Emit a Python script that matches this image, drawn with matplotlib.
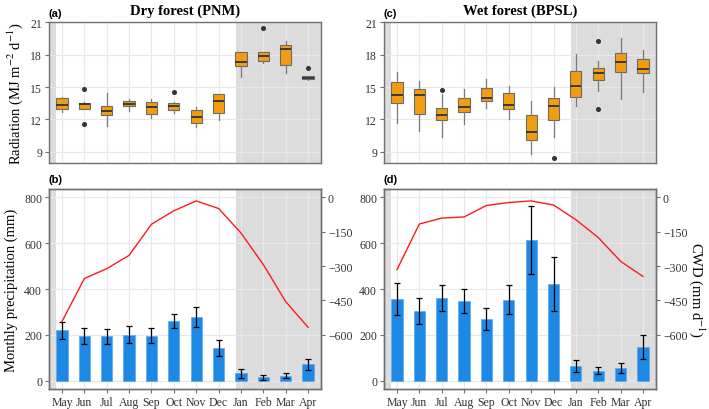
import numpy as np
import matplotlib
matplotlib.use('Agg')
import matplotlib.pyplot as plt

plt.rcParams['font.family'] = ['Liberation Serif', 'DejaVu Serif']
plt.rcParams['mathtext.fontset'] = 'stix'

months = ['May', 'Jun', 'Jul', 'Aug', 'Sep', 'Oct', 'Nov', 'Dec', 'Jan', 'Feb', 'Mar', 'Apr']

# radiation boxplot stats, dry forest (PNM)
dry_q1 = [13.0, 13.0, 12.38, 13.25, 12.5, 12.88, 11.7, 12.57, 16.94, 17.47, 17.03, 15.76]
dry_med = [13.34, 13.43, 12.78, 13.46, 13.19, 13.28, 12.2, 13.72, 17.37, 17.87, 18.58, 15.88]
dry_q3 = [13.96, 13.53, 13.28, 13.71, 13.65, 13.53, 12.88, 14.34, 18.3, 18.24, 18.92, 16.0]
dry_wlo = [12.66, 12.95, 11.42, 12.8, 12.1, 12.6, 11.3, 11.95, 15.98, 17.22, 16.3, 15.7]
dry_whi = [14.1, 13.6, 14.43, 13.9, 13.9, 13.65, 13.13, 14.34, 18.3, 18.3, 19.3, 16.05]
dry_fliers = [[], [14.86, 11.54], [], [], [], [14.52], [], [], [], [20.53], [], [16.75]]

# radiation boxplot stats, wet forest (BPSL)
wet_q1 = [13.53, 12.48, 11.92, 12.66, 13.68, 12.94, 10.12, 11.92, 14.12, 15.67, 16.41, 16.32]
wet_med = [14.24, 14.27, 12.38, 13.19, 13.96, 13.34, 10.8, 13.28, 15.08, 16.32, 17.34, 16.66]
wet_q3 = [15.45, 14.83, 13.03, 14.02, 14.89, 14.43, 12.41, 13.96, 16.47, 16.75, 18.21, 17.59]
wet_wlo = [11.64, 10.96, 10.34, 11.58, 13.03, 12.04, 8.79, 10.34, 13.28, 14.61, 13.9, 14.55]
wet_whi = [16.44, 15.6, 14.37, 14.83, 15.76, 15.08, 13.68, 15.05, 18.09, 17.47, 19.6, 18.49]
wet_fliers = [[], [], [14.77], [], [], [], [], [8.45], [], [19.26, 13.0], [], []]

# monthly precipitation (mean, error) and CWD
dry_prec = [219, 194, 193, 201, 196, 262, 278, 141, 32, 14.5, 22, 71]
dry_err = [38, 34, 33, 38, 33, 31, 44, 35, 19, 10, 12.5, 23]
dry_cwd = [-542, -354, -311, -253, -117, -58, -15, -48, -155, -293, -455, -567]

wet_prec = [355, 303, 361, 348, 270, 354, 614, 422, 65, 43.5, 56.5, 148]
wet_err = [70, 57, 58, 52, 48, 63, 150, 118, 26, 15, 22, 53]
wet_cwd = [-315, -116, -90, -85, -35, -22, -15, -33, -97, -175, -279, -345]

x = np.arange(len(months))
spine_col = '#707070'
grid_col = '#E8E8E8'
shade_col = '#DCDCDC'


def style(ax):
    ax.set_xlim(-0.58, 11.58)
    ax.set_axisbelow(True)
    ax.grid(True, color=grid_col, lw=0.9, zorder=0.5)
    ax.axvspan(-0.58, -0.25, color=shade_col, lw=0, zorder=0.2)
    ax.axvspan(7.76, 11.58, color=shade_col, lw=0, zorder=0.2)
    for s in ax.spines.values():
        s.set_color(spine_col)
        s.set_linewidth(1.0)
    ax.tick_params(colors='#333333', labelsize=8.5, length=3, width=0.8, pad=2)
    ax.tick_params(axis='both', color=spine_col)


def boxes(ax, q1, med, q3, wlo, whi, fl):
    stats = []
    for i in range(len(months)):
        stats.append(dict(q1=q1[i], med=med[i], q3=q3[i], whislo=wlo[i], whishi=whi[i], fliers=fl[i]))
    ax.bxp(stats, positions=x, widths=0.5, patch_artist=True, showcaps=False,
           boxprops=dict(facecolor='#F29D0F', edgecolor='#6a6a6a', lw=0.8),
           medianprops=dict(color='#3a3a3a', lw=1.4),
           whiskerprops=dict(color='#7a7a7a', lw=0.9),
           flierprops=dict(marker='o', markersize=2.6, markerfacecolor='#333333',
                           markeredgecolor='#333333'))
    ax.set_ylim(7.95, 21.05)
    ax.set_yticks([9, 12, 15, 18, 21])
    ax.set_xticks(x)
    ax.tick_params(axis='x', length=0, labelbottom=False)


def bars(ax, prec, err, cwd):
    ax.bar(x, prec, width=0.5, color='#1E88E5', edgecolor='#5aa8ee', lw=0.5, zorder=2)
    ax.errorbar(x, prec, yerr=err, fmt='none', ecolor='black', elinewidth=0.9, capsize=2.5,
                capthick=0.9, zorder=3)
    ax.set_ylim(-38, 836)
    ax.set_yticks([0, 200, 400, 600, 800])
    ax.set_xticks(x)
    ax.set_xticklabels(months)
    ax.tick_params(axis='x', pad=1.5)
    ax2 = ax.twinx()
    ax2.plot(x, cwd, color='#FF1A1A', lw=1.0)
    ax2.set_ylim(-838, 36)
    ax2.set_yticks([0, -150, -300, -450, -600])
    ax2.set_xlim(-0.58, 11.58)
    for s in ax2.spines.values():
        s.set_color(spine_col)
        s.set_linewidth(1.0)
    ax2.tick_params(colors='#333333', labelsize=8.5, length=3, width=0.8, pad=2)
    ax2.tick_params(axis='y', color=spine_col)
    return ax2


fig = plt.figure(figsize=(7.09, 4.10), dpi=100)
ax_a = fig.add_axes([0.0691, 0.600, 0.3837, 0.344])
ax_c = fig.add_axes([0.5416, 0.600, 0.3836, 0.344])
ax_b = fig.add_axes([0.0691, 0.0480, 0.3837, 0.488])
ax_d = fig.add_axes([0.5416, 0.0480, 0.3836, 0.488])

for ax in [ax_a, ax_b, ax_c, ax_d]:
    style(ax)

boxes(ax_a, dry_q1, dry_med, dry_q3, dry_wlo, dry_whi, dry_fliers)
boxes(ax_c, wet_q1, wet_med, wet_q3, wet_wlo, wet_whi, wet_fliers)
bars(ax_b, dry_prec, dry_err, dry_cwd)
ax2d = bars(ax_d, wet_prec, wet_err, wet_cwd)

ax_a.set_ylabel('Radiation (MJ m$^{-2}$ d$^{-1}$)', fontsize=10.5)
ax_b.set_ylabel('Monthly precipitation (mm)', fontsize=10.5)
ax2d.set_ylabel('CWD (mm d$^{-1}$)', fontsize=10.5, rotation=270, labelpad=14)

ax_a.set_title('Dry forest (PNM)', fontsize=10.5, fontweight='bold', pad=6)
ax_c.set_title('Wet forest (BPSL)', fontsize=10.5, fontweight='bold', pad=6)

for ax, tag in [(ax_a, '(a)'), (ax_b, '(b)'), (ax_c, '(c)'), (ax_d, '(d)')]:
    ax.text(0.0, 1.025, tag, transform=ax.transAxes, ha='left', va='bottom',
            fontsize=8, fontweight='bold', family=['Liberation Sans', 'DejaVu Sans'])

fig.savefig('out.png', dpi=100)
